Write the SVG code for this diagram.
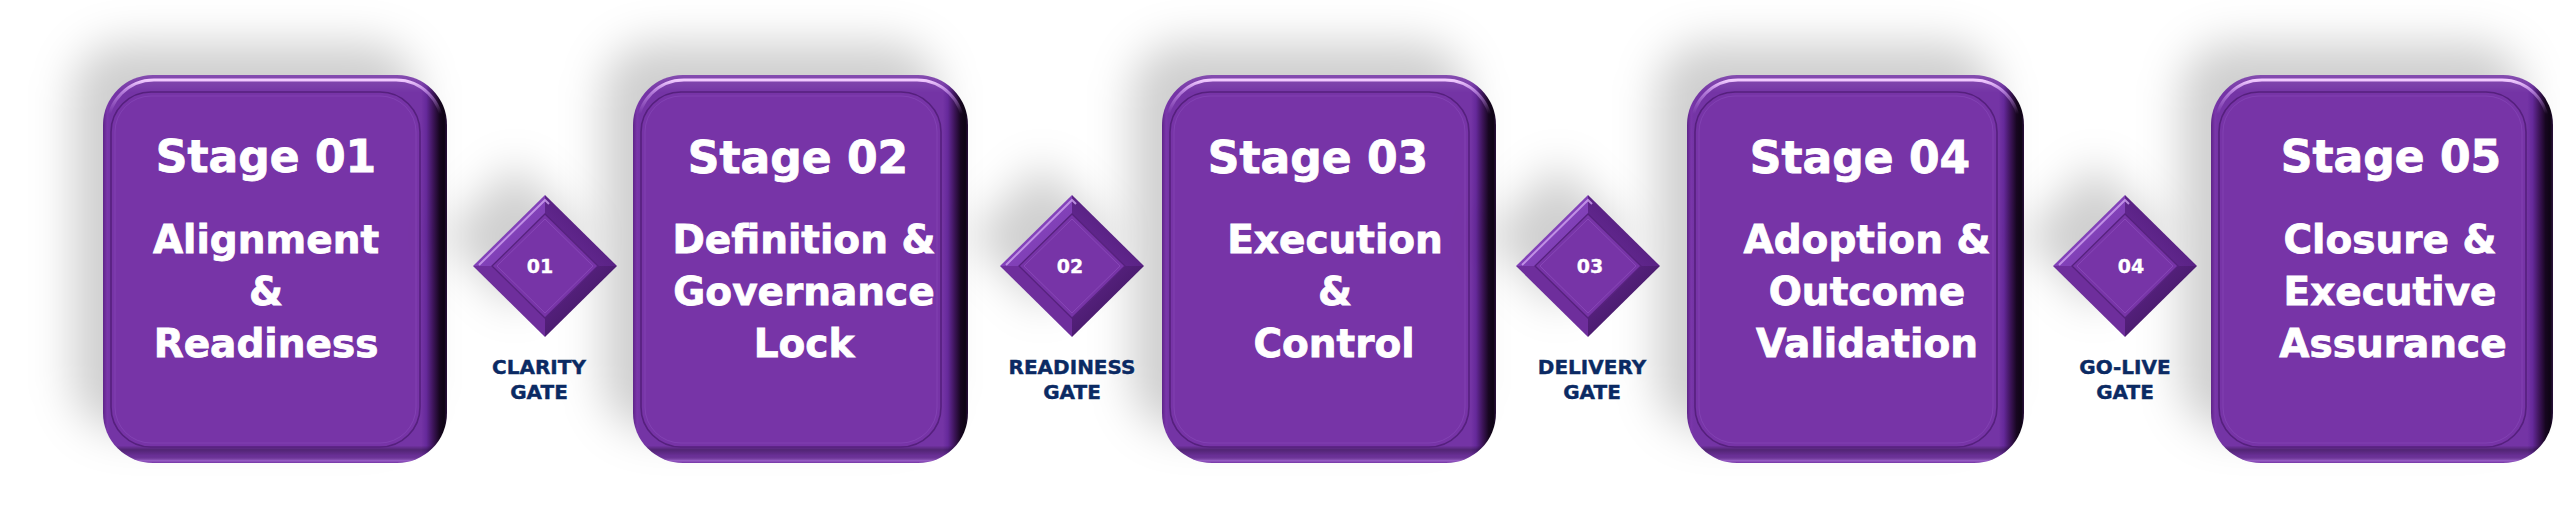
<svg xmlns="http://www.w3.org/2000/svg" xmlns:xlink="http://www.w3.org/1999/xlink" width="2560" height="513" viewBox="0 0 2560 513">
<style>
.shadow{fill:#000;fill-opacity:.19;filter:url(#blur)}
.body{fill:url(#gBodyH)}
.bodyv{fill:url(#gBodyV)}
.hi{fill:none;stroke:url(#gHi);stroke-width:3}
.face{fill:#7734a7;stroke:#55207d;stroke-width:1.6}
.faceline{fill:none;stroke:#9254c2;stroke-width:1;stroke-opacity:.4}
.t{font-family:"DejaVu Sans","Verdana",sans-serif;font-weight:bold;fill:#fff;stroke:#fff;stroke-width:.8;text-anchor:middle}
.stage{font-size:44px}
.sub{font-size:39px}
.num{font-size:19px;stroke-width:.3}
.gl{font-family:"DejaVu Sans","Verdana",sans-serif;font-weight:bold;fill:#0b2a63;stroke:#0b2a63;stroke-width:.4;text-anchor:middle;font-size:20px}
</style>
<defs>
<filter id="blur" x="-50%" y="-50%" width="200%" height="200%"><feGaussianBlur stdDeviation="22"/></filter>
<linearGradient id="gBodyH" x1="0" y1="0" x2="1" y2="0">
<stop offset="0" stop-color="#5e2488"/>
<stop offset="0.012" stop-color="#7a36aa"/>
<stop offset="0.02" stop-color="#7434a5"/>
<stop offset="0.925" stop-color="#7434a5"/>
<stop offset="0.94" stop-color="#65299a"/>
<stop offset="0.96" stop-color="#3c1458"/>
<stop offset="0.978" stop-color="#170620"/>
<stop offset="0.992" stop-color="#0e0414"/>
<stop offset="1" stop-color="#2a0f3d"/>
</linearGradient>
<linearGradient id="gBodyV" x1="0" y1="0" x2="0" y2="1">
<stop offset="0" stop-color="#fff" stop-opacity=".12"/>
<stop offset="0.03" stop-color="#fff" stop-opacity=".05"/>
<stop offset="0.045" stop-color="#fff" stop-opacity="0"/>
<stop offset="0.955" stop-color="#000" stop-opacity="0"/>
<stop offset="0.966" stop-color="#000" stop-opacity=".3"/>
<stop offset="0.982" stop-color="#000" stop-opacity=".08"/>
<stop offset="0.994" stop-color="#d8a8ff" stop-opacity=".35"/>
<stop offset="1" stop-color="#d8a8ff" stop-opacity="0"/>
</linearGradient>
<linearGradient id="gHi" x1="0" y1="0" x2="0" y2="1">
<stop offset="0" stop-color="#f2ccff" stop-opacity="1"/>
<stop offset="0.03" stop-color="#e2b0ff" stop-opacity=".6"/>
<stop offset="0.09" stop-color="#d8a0ff" stop-opacity="0"/>
<stop offset="1" stop-color="#d8a0ff" stop-opacity="0"/>
</linearGradient>
<linearGradient id="gTR" x1="0" y1="1" x2="1" y2="0">
<stop offset="0" stop-color="#6e2e9e"/>
<stop offset="0.6" stop-color="#562080"/>
<stop offset="1" stop-color="#2a0c40"/>
</linearGradient>
<linearGradient id="gBR" x1="0" y1="0" x2="1" y2="1">
<stop offset="0" stop-color="#64288f"/>
<stop offset="0.6" stop-color="#481a6c"/>
<stop offset="1" stop-color="#1c0628"/>
</linearGradient>
<linearGradient id="gTL" x1="1" y1="1" x2="0" y2="0">
<stop offset="0" stop-color="#7a38ae"/>
<stop offset="0.7" stop-color="#8646be"/>
<stop offset="1" stop-color="#7030a2"/>
</linearGradient>
<g id="gem">
<polygon class="shadow" points="-30,-102 42,-30 -30,42 -102,-30"/>
<polygon fill="url(#gTL)" points="-72,0 0,-71 0,-52 -53,0"/>
<polygon fill="url(#gTR)" points="0,-71 72,0 53,0 0,-52"/>
<polygon fill="url(#gBR)" points="72,0 0,71 0,52 53,0"/>
<polygon fill="#6e2e9c" points="0,71 -72,0 -53,0 0,52"/>
<polyline fill="none" stroke="#cfa2f0" stroke-width="2" stroke-opacity=".8" points="-66,-1 0,-66 4,-62"/>
<polygon fill="#7734a7" stroke="#55207d" stroke-width="1.3" points="0,-52 53,0 0,52 -53,0"/>
<polygon fill="none" stroke="#9254c2" stroke-width="1" stroke-opacity=".6" points="0,-47 48,0 0,47 -48,0"/>
</g>
</defs>
<rect width="2560" height="513" fill="#fff"/>

<g id="stage1">
<rect class="shadow" x="73" y="43" width="344" height="388" rx="50"/>
<rect class="body" x="103" y="75" width="344" height="388" rx="50"/>
<rect class="bodyv" x="103" y="75" width="344" height="388" rx="50"/>
<rect class="hi" x="108" y="80" width="334" height="378" rx="46"/>
<rect class="face" x="111" y="92" width="309" height="355" rx="40"/>
<rect class="faceline" x="115" y="96" width="301" height="347" rx="36"/>
<text class="t stage" x="266" y="172">Stage 01</text>
<text class="t sub" x="266" y="253">Alignment</text>
<text class="t sub" x="266" y="305">&amp;</text>
<text class="t sub" x="266" y="357">Readiness</text>
</g>

<g id="stage2">
<rect class="shadow" x="603" y="43" width="335" height="388" rx="50"/>
<rect class="body" x="633" y="75" width="335" height="388" rx="50"/>
<rect class="bodyv" x="633" y="75" width="335" height="388" rx="50"/>
<rect class="hi" x="638" y="80" width="325" height="378" rx="46"/>
<rect class="face" x="641" y="92" width="300" height="355" rx="40"/>
<rect class="faceline" x="645" y="96" width="292" height="347" rx="36"/>
<text class="t stage" x="798" y="173">Stage 02</text>
<text class="t sub" x="804" y="253">Definition &amp;</text>
<text class="t sub" x="804" y="305">Governance</text>
<text class="t sub" x="804" y="357">Lock</text>
</g>

<g id="stage3">
<rect class="shadow" x="1132" y="43" width="334" height="388" rx="50"/>
<rect class="body" x="1162" y="75" width="334" height="388" rx="50"/>
<rect class="bodyv" x="1162" y="75" width="334" height="388" rx="50"/>
<rect class="hi" x="1167" y="80" width="324" height="378" rx="46"/>
<rect class="face" x="1170" y="92" width="299" height="355" rx="40"/>
<rect class="faceline" x="1174" y="96" width="291" height="347" rx="36"/>
<text class="t stage" x="1318" y="173">Stage 03</text>
<text class="t sub" x="1335" y="253">Execution</text>
<text class="t sub" x="1335" y="305">&amp;</text>
<text class="t sub" x="1334" y="357">Control</text>
</g>

<g id="stage4">
<rect class="shadow" x="1657" y="43" width="337" height="388" rx="50"/>
<rect class="body" x="1687" y="75" width="337" height="388" rx="50"/>
<rect class="bodyv" x="1687" y="75" width="337" height="388" rx="50"/>
<rect class="hi" x="1692" y="80" width="327" height="378" rx="46"/>
<rect class="face" x="1695" y="92" width="302" height="355" rx="40"/>
<rect class="faceline" x="1699" y="96" width="294" height="347" rx="36"/>
<text class="t stage" x="1860" y="173">Stage 04</text>
<text class="t sub" x="1867" y="253">Adoption &amp;</text>
<text class="t sub" x="1867" y="305">Outcome</text>
<text class="t sub" x="1867" y="357">Validation</text>
</g>

<g id="stage5">
<rect class="shadow" x="2181" y="43" width="342" height="388" rx="50"/>
<rect class="body" x="2211" y="75" width="342" height="388" rx="50"/>
<rect class="bodyv" x="2211" y="75" width="342" height="388" rx="50"/>
<rect class="hi" x="2216" y="80" width="332" height="378" rx="46"/>
<rect class="face" x="2219" y="92" width="307" height="355" rx="40"/>
<rect class="faceline" x="2223" y="96" width="299" height="347" rx="36"/>
<text class="t stage" x="2391" y="172">Stage 05</text>
<text class="t sub" x="2390" y="253">Closure &amp;</text>
<text class="t sub" x="2390" y="305">Executive</text>
<text class="t sub" x="2393" y="357">Assurance</text>
</g>

<g id="gate1">
<use xlink:href="#gem" href="#gem" x="545" y="266"/>
<text class="t num" x="540" y="273">01</text>
<text class="gl" x="539" y="374">CLARITY</text>
<text class="gl" x="539" y="399">GATE</text>
</g>

<g id="gate2">
<use xlink:href="#gem" href="#gem" x="1072" y="266"/>
<text class="t num" x="1070" y="273">02</text>
<text class="gl" x="1072" y="374">READINESS</text>
<text class="gl" x="1072" y="399">GATE</text>
</g>

<g id="gate3">
<use xlink:href="#gem" href="#gem" x="1588" y="266"/>
<text class="t num" x="1590" y="273">03</text>
<text class="gl" x="1592" y="374">DELIVERY</text>
<text class="gl" x="1592" y="399">GATE</text>
</g>

<g id="gate4">
<use xlink:href="#gem" href="#gem" x="2125" y="266"/>
<text class="t num" x="2131" y="273">04</text>
<text class="gl" x="2125" y="374">GO-LIVE</text>
<text class="gl" x="2125" y="399">GATE</text>
</g>

<g id="connectors"></g>
</svg>
